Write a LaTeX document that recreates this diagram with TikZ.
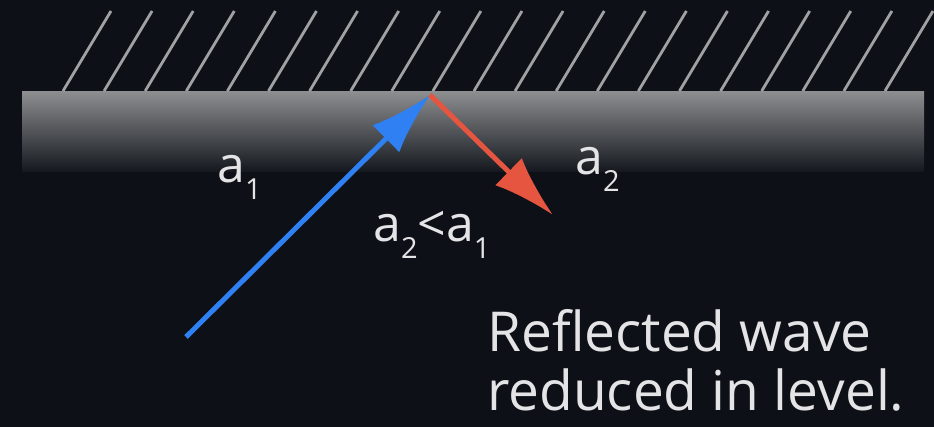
\documentclass[tikz,border=0pt]{standalone}
\usepackage{fontspec}
\setmainfont{Open Sans}
\usetikzlibrary{arrows.meta}

\definecolor{bgdark}{HTML}{0D1117}
\definecolor{wallgray}{HTML}{8C8D8F}
\definecolor{wallfoot}{HTML}{14181E}
\definecolor{hatchgray}{HTML}{A0A1A3}
\definecolor{incblue}{HTML}{2F80F2}
\definecolor{refred}{HTML}{E5553F}
\definecolor{txtwhite}{HTML}{E4E4E6}

\newcommand{\lvlidx}[1]{\raisebox{-17pt}{\fontsize{29}{29}\selectfont #1}}

\begin{document}
\begin{tikzpicture}[x=1pt, y=-1pt,
  wave/.style={line width=5pt, -{Latex[length=62pt, width=38pt]}},
  amp/.style={text=txtwhite, font=\fontsize{50}{50}\selectfont, inner sep=0pt, anchor=base west},
  note/.style={text=txtwhite, font=\fontsize{55}{59}\selectfont, align=left, inner sep=0pt, anchor=north west}
]
\fill[bgdark] (0,0) rectangle (934,427);
\useasboundingbox (0,0) rectangle (934,427);
% wall with hatching
\shade[top color=wallgray, bottom color=wallfoot] (22,92) rectangle (924,172);
\foreach \k in {0,...,20}
  \draw[hatchgray, line width=2.8pt] (63+41.1*\k,91) -- ++(48,-80);
% waves
\coordinate (src) at (186,337);
\coordinate (hit) at (430,95);
\coordinate (out) at (553,215);
\draw[wave, incblue] (src) -- (hit);
\draw[wave, refred] (hit) -- (out);
% labels
\node[amp] (aone) at (217,183) {a\lvlidx{1}};
\node[amp] (atwo) at (575,175) {a\lvlidx{2}};
\node[amp] (cmp) at (373,242) {a\lvlidx{2}<a\lvlidx{1}};
\node[note] (msg) at (487,309) {Reflected wave\\reduced in level.};
\end{tikzpicture}
\end{document}
